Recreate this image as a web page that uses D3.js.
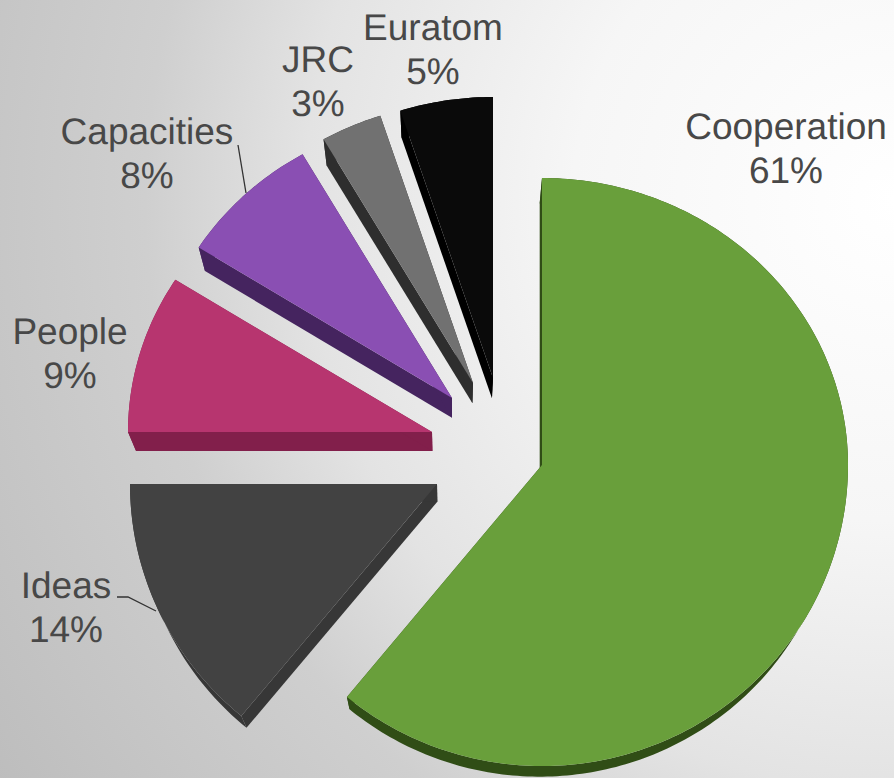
<!DOCTYPE html>
<html>
<head>
    <script src="https://cdn.jsdelivr.net/npm/d3@7"></script>
    <style>
        html, body { margin: 0; padding: 0; background: #fff; }
        #my-svg { display: block; width: 894px; height: 778px; }
    </style>
</head>
<body>

    <svg id="my-svg" viewBox="0 0 894 778"></svg>

<script>
    // values, clockwise from 12 o'clock
    const categories = ["Cooperation", "Ideas", "People", "Capacities", "JRC", "Euratom"];
    // unrounded shares
    const shares = [61, 14, 9, 7.7, 3.3, 5];
    const shareLabels = ["61%", "14%", "9%", "8%", "3%", "5%"];
    const topColors = ["#699f3b", "#424242", "#b7356f", "#8a4fb3", "#717171", "#0a0a0a"];
    const sideColors = ["#304d16", "#373737", "#821f4b", "#45245f", "#2e2e2e", "#000000"];

    const width = 894;
    const height = 778;

    // where each exploded slice has its tip, and its radii
    const tips = {
        Cooperation: { x: 542, y: 465, rx: 306, ryBack: 287 },
        Ideas: { x: 437, y: 484, rx: 307, ryBack: 284 },
        People: { x: 432, y: 432, rx: 304, ryBack: 284 },
        Capacities: { x: 452, y: 398, rx: 300, ryBack: 281 },
        JRC: { x: 473, y: 383, rx: 300, ryBack: 281 },
        Euratom: { x: 493, y: 378, rx: 300, ryBack: 281 }
    };
    // the tilted disc looks bigger in front than behind
    const ryFront = 301;
    // the underside is the top face scaled towards a far point
    const shrink = 0.975;
    const vanishX = 450;
    const vanishY = 1192;

    const labels = [
        { name: "Cooperation", x: 786, y: 139 },
        { name: "Ideas", x: 66, y: 598 },
        { name: "People", x: 70, y: 344 },
        { name: "Capacities", x: 147, y: 144 },
        { name: "JRC", x: 318, y: 72 },
        { name: "Euratom", x: 433, y: 40 }
    ];

    const svg = d3.select("#my-svg");

    // background
    const defs = svg.append("defs");
    const grad = defs.append("radialGradient")
        .attr("id", "bg")
        .attr("gradientUnits", "userSpaceOnUse")
        .attr("cx", width).attr("cy", 200).attr("r", 1070);
    [[0, "#ffffff"], [0.3, "#f6f6f6"], [0.55, "#e3e3e3"], [0.7, "#cfcfcf"], [1, "#bdbdbd"]].forEach(s => {
        grad.append("stop").attr("offset", s[0]).attr("stop-color", s[1]);
    });
    svg.append("rect").attr("width", width).attr("height", height).attr("fill", "url(#bg)");

    const pie = d3.pie().sort(null).value(d => d.share)
        .startAngle(0).endAngle(2 * Math.PI);
    const slices = pie(categories.map((c, i) => ({ name: c, share: shares[i], top: topColors[i], side: sideColors[i] })));

    const line = d3.line();

    function arcPoints(s) {
        const t = tips[s.data.name];
        const n = Math.max(4, Math.round((s.endAngle - s.startAngle) * 60));
        return d3.range(n + 1).map(i => {
            const a = s.startAngle + (s.endAngle - s.startAngle) * i / n;
            const c = Math.cos(a);
            return [t.x + t.rx * Math.sin(a), t.y - c * (c > 0 ? t.ryBack : ryFront)];
        });
    }

    function lower(p) {
        return [vanishX + (p[0] - vanishX) * shrink, vanishY + (p[1] - vanishY) * shrink];
    }

    slices.forEach(s => {
        const t = tips[s.data.name];
        const tip = [t.x, t.y];
        const arc = arcPoints(s);
        const first = arc[0];
        const last = arc[arc.length - 1];
        const g = svg.append("g").attr("class", "slice");
        // side walls first: the rim and the two cut faces
        const walls = [
            arc.concat(arc.map(lower).reverse()),
            [tip, first, lower(first), lower(tip)],
            [tip, last, lower(last), lower(tip)]
        ];
        walls.forEach(w => {
            g.append("path")
                .attr("d", line(w) + "Z")
                .attr("fill", s.data.side);
        });
        g.append("path")
            .attr("d", line([tip].concat(arc)) + "Z")
            .attr("fill", s.data.top);
    });

    // leader lines
    const leaders = [
        [[238, 145], [246, 193]],
        [[117, 597], [128, 597], [156, 611]]
    ];
    svg.append("g").selectAll("path")
        .data(leaders)
        .join("path")
        .attr("d", d => line(d))
        .attr("fill", "none")
        .attr("stroke", "#333")
        .attr("stroke-width", 1.3);

    // labels
    const text = svg.append("g")
        .attr("font-family", "'Liberation Sans', Arial, sans-serif")
        .attr("font-size", 37)
        .attr("fill", "#484848")
        .attr("text-rendering", "geometricPrecision")
        .attr("text-anchor", "middle");
    labels.forEach(l => {
        const i = categories.indexOf(l.name);
        text.append("text").attr("x", l.x).attr("y", l.y).text(l.name);
        text.append("text").attr("x", l.x).attr("y", l.y + 44).text(shareLabels[i]);
    });
</script>
</body>
</html>
